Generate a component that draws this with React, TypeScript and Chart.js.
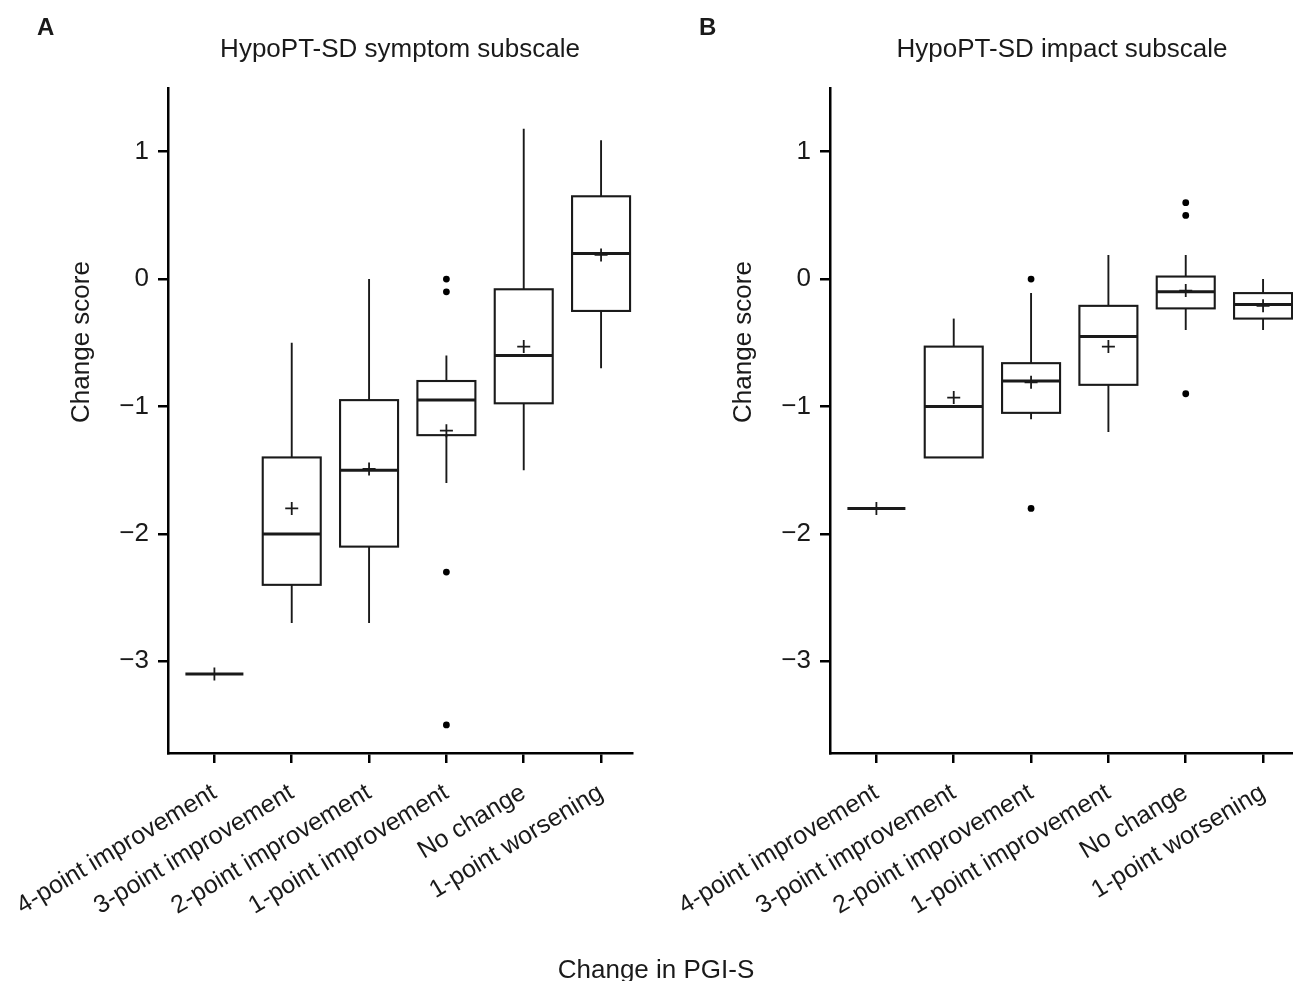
import React, { useEffect, useRef } from 'react';
import { Chart, registerables } from 'chart.js';

Chart.register(...registerables);

const FONT = '"Liberation Sans", Arial, Helvetica, sans-serif';
const INK = '#1a1a1a';

// ---- Data ----
const categories = [
  '4-point improvement',
  '3-point improvement',
  '2-point improvement',
  '1-point improvement',
  'No change',
  '1-point worsening',
];
const yTickValues = [-3, -2, -1, 0, 1];

// Panel A: HypoPT-SD symptom subscale
const symptomWhiskerLow = [-3.1, -2.7, -2.7, -1.6, -1.5, -0.7];
const symptomQ1 = [-3.1, -2.4, -2.1, -1.225, -0.975, -0.25];
const symptomMedian = [-3.1, -2.0, -1.5, -0.95, -0.6, 0.2];
const symptomQ3 = [-3.1, -1.4, -0.95, -0.8, -0.08, 0.65];
const symptomWhiskerHigh = [-3.1, -0.5, 0.0, -0.6, 1.18, 1.09];
const symptomMean = [-3.1, -1.8, -1.49, -1.19, -0.53, 0.19];
const symptomOutlierCat = [3, 3, 3, 3];
const symptomOutlierVal = [0.0, -0.1, -2.3, -3.5];

// Panel B: HypoPT-SD impact subscale
const impactWhiskerLow = [-1.8, -1.4, -1.1, -1.2, -0.4, -0.4];
const impactQ1 = [-1.8, -1.4, -1.05, -0.83, -0.23, -0.31];
const impactMedian = [-1.8, -1.0, -0.8, -0.45, -0.1, -0.2];
const impactQ3 = [-1.8, -0.53, -0.66, -0.21, 0.02, -0.11];
const impactWhiskerHigh = [-1.8, -0.31, -0.11, 0.19, 0.19, 0.0];
const impactMean = [-1.8, -0.93, -0.81, -0.53, -0.09, -0.21];
const impactOutlierCat = [2, 2, 4, 4, 4];
const impactOutlierVal = [0.0, -1.8, 0.6, 0.5, -0.9];

type Stats = {
  low: number[];
  q1: number[];
  med: number[];
  q3: number[];
  high: number[];
  mean: number[];
  outCat: number[];
  outVal: number[];
};

const symptomStats: Stats = {
  low: symptomWhiskerLow,
  q1: symptomQ1,
  med: symptomMedian,
  q3: symptomQ3,
  high: symptomWhiskerHigh,
  mean: symptomMean,
  outCat: symptomOutlierCat,
  outVal: symptomOutlierVal,
};
const impactStats: Stats = {
  low: impactWhiskerLow,
  q1: impactQ1,
  med: impactMedian,
  q3: impactQ3,
  high: impactWhiskerHigh,
  mean: impactMean,
  outCat: impactOutlierCat,
  outVal: impactOutlierVal,
};

const BOX_HALF = 0.375; // in category units

const fmtY = (v: number) => (v < 0 ? '\u2212' + Math.abs(v) : String(v));

function boxPlugin(stats: Stats) {
  return {
    id: 'boxes',
    beforeDatasetsDraw(chart: any) {
      const { ctx } = chart;
      const xs = chart.scales.x;
      const ys = chart.scales.y;
      ctx.save();
      ctx.strokeStyle = INK;
      ctx.lineCap = 'butt';
      for (let i = 0; i < stats.med.length; i++) {
        const xl = xs.getPixelForValue(i - BOX_HALF);
        const xr = xs.getPixelForValue(i + BOX_HALF);
        const xc = xs.getPixelForValue(i);
        const yq1 = ys.getPixelForValue(stats.q1[i]);
        const yq3 = ys.getPixelForValue(stats.q3[i]);
        const ymed = ys.getPixelForValue(stats.med[i]);
        const ylo = ys.getPixelForValue(stats.low[i]);
        const yhi = ys.getPixelForValue(stats.high[i]);
        // whiskers
        ctx.lineWidth = 1.9;
        ctx.beginPath();
        if (yhi < yq3) {
          ctx.moveTo(xc, yq3);
          ctx.lineTo(xc, yhi);
        }
        if (ylo > yq1) {
          ctx.moveTo(xc, yq1);
          ctx.lineTo(xc, ylo);
        }
        ctx.stroke();
        // box
        if (Math.abs(yq1 - yq3) > 0.5) {
          ctx.lineWidth = 2.1;
          ctx.strokeRect(xl, yq3, xr - xl, yq1 - yq3);
        }
        // median
        ctx.lineWidth = 3;
        ctx.beginPath();
        ctx.moveTo(xl, ymed);
        ctx.lineTo(xr, ymed);
        ctx.stroke();
      }
      ctx.restore();
    },
  };
}

function textPlugin(letter: string, title: string) {
  return {
    id: 'panelText',
    afterDraw(chart: any) {
      const { ctx, chartArea } = chart;
      ctx.save();
      ctx.fillStyle = INK;
      ctx.textBaseline = 'alphabetic';
      ctx.font = `bold 24px ${FONT}`;
      ctx.textAlign = 'left';
      ctx.fillText(letter, 37, 35);
      ctx.font = `26px ${FONT}`;
      ctx.textAlign = 'center';
      ctx.fillText(title, (chartArea.left + chartArea.right) / 2, 57);
      ctx.translate(89, 342);
      ctx.rotate(-Math.PI / 2);
      ctx.fillText('Change score', 0, 0);
      ctx.restore();
    },
  };
}

function Panel({ left, letter, title, stats }: { left: number; letter: string; title: string; stats: Stats }) {
  const ref = useRef<HTMLCanvasElement | null>(null);
  useEffect(() => {
    if (!ref.current) return;
    const axisCommon = {
      grid: {
        drawOnChartArea: false,
        drawTicks: true,
        tickLength: 10,
        color: '#000',
        lineWidth: 2.5,
      },
      border: { display: true, color: '#000', width: 2.5 },
    };
    const chart = new Chart(ref.current, {
      type: 'scatter',
      data: {
        datasets: [
          {
            label: 'Mean',
            data: stats.mean.map((v, i) => ({ x: i, y: v })),
            pointStyle: 'cross',
            pointRadius: 6.5,
            pointHoverRadius: 6.5,
            borderColor: INK,
            backgroundColor: INK,
            borderWidth: 1.8,
          },
          {
            label: 'Outliers',
            data: stats.outCat.map((c, i) => ({ x: c, y: stats.outVal[i] })),
            pointStyle: 'circle',
            pointRadius: 3.4,
            pointHoverRadius: 3.4,
            borderColor: '#000',
            backgroundColor: '#000',
            borderWidth: 0,
          },
        ],
      },
      options: {
        responsive: false,
        animation: false,
        events: [],
        layout: { padding: { left: 0, right: 30, top: 88, bottom: 0 } },
        plugins: {
          legend: { display: false },
          tooltip: { enabled: false },
          title: { display: false },
        },
        scales: {
          x: {
            type: 'linear',
            min: -0.6,
            max: 5.4,
            afterBuildTicks: (s: any) => {
              s.ticks = categories.map((_, i) => ({ value: i }));
            },
            afterFit: (s: any) => {
              s.height = 228;
              s.paddingLeft = 0;
              s.paddingRight = 0;
            },
            ticks: {
              autoSkip: false,
              minRotation: 31,
              maxRotation: 31,
              padding: 15,
              color: INK,
              font: { family: FONT, size: 25 },
              callback: (v: any) => categories[Math.round(Number(v))] ?? '',
            },
            ...axisCommon,
          },
          y: {
            type: 'linear',
            min: -3.72,
            max: 1.5,
            afterBuildTicks: (s: any) => {
              s.ticks = yTickValues.map((v) => ({ value: v }));
            },
            afterFit: (s: any) => {
              s.width = 168;
              s.paddingTop = 0;
              s.paddingBottom = 0;
            },
            ticks: {
              padding: 9,
              color: INK,
              font: { family: FONT, size: 26 },
              callback: (v: any) => fmtY(Number(v)),
            },
            ...axisCommon,
          },
        },
      } as any,
      plugins: [boxPlugin(stats), textPlugin(letter, title)],
    });
    return () => chart.destroy();
  }, []);
  return (
    <canvas
      ref={ref}
      width={662}
      height={981}
      style={{ position: 'absolute', left, top: 0, width: 662, height: 981 }}
    />
  );
}

export default function App() {
  return (
    <div
      style={{
        position: 'fixed',
        left: 0,
        top: 0,
        width: 1293,
        height: 981,
        overflow: 'hidden',
        background: '#fff',
      }}
    >
      <Panel left={0} letter="A" title="HypoPT-SD symptom subscale" stats={symptomStats} />
      <Panel left={662} letter="B" title="HypoPT-SD impact subscale" stats={impactStats} />
      <div
        style={{
          position: 'absolute',
          left: 456,
          width: 400,
          top: 955,
          textAlign: 'center',
          fontFamily: FONT,
          fontSize: 26,
          lineHeight: '28px',
          color: INK,
          whiteSpace: 'nowrap',
        }}
      >
        Change in PGI-S
      </div>
    </div>
  );
}
